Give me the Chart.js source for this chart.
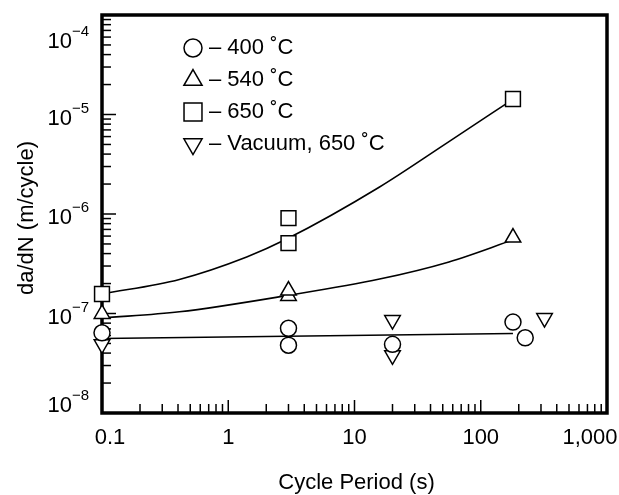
<!DOCTYPE html>
<html>
<head>
    <title>Crack Growth Rate vs Cycle Period</title>
    <script src="https://cdn.jsdelivr.net/npm/chart.js"></script>
    <style>
        body {
            margin: 0;
            background: #fff;
        }
        #wrap {
            width: 619px;
            height: 495px;
        }
    </style>
</head>
<body>
    <div id="wrap">
        <canvas id="crackChart" width="619" height="495"></canvas>
    </div>

    <script>
        // axis ticks
        const xTicks = [0.1, 1, 10, 100, 1000];
        const xTickLabels = ['0.1', '1', '10', '100', '1,000'];
        const yTicks = [1e-8, 1e-7, 1e-6, 1e-5, 1e-4];
        const yTickExps = ['\u22128', '\u22127', '\u22126', '\u22125', '\u22124'];

        const seriesLabels = ['\u2013 400 \u02daC', '\u2013 540 \u02daC', '\u2013 650 \u02daC', '\u2013 Vacuum, 650 \u02daC'];

        // measured points (cycle period s, da/dN m/cycle)
        const period400 = [0.1, 3, 3, 20, 180, 225];
        const rate400 = [6.4e-8, 7.1e-8, 4.8e-8, 4.9e-8, 8.2e-8, 5.7e-8];
        const period540 = [0.1, 3, 3, 180];
        const rate540 = [9.9e-8, 1.5e-7, 1.7e-7, 5.8e-7];
        const period650 = [0.1, 3, 3, 180];
        const rate650 = [1.57e-7, 9.1e-7, 5.1e-7, 1.43e-5];
        const periodVac = [0.1, 20, 20, 320];
        const rateVac = [4.9e-8, 8.6e-8, 3.8e-8, 9.0e-8];

        // fitted curves
        const fitPeriod400 = [0.1, 180];
        const fit400 = [5.6e-8, 6.3e-8];
        const fitPeriod540 = [0.1, 0.41, 3.06, 15.8, 56, 181];
        const fit540 = [9.0e-8, 1.04e-7, 1.53e-7, 2.22e-7, 3.3e-7, 5.5e-7];
        const fitPeriod650 = [0.1, 0.41, 1.4, 2.9, 15.8, 53, 181];
        const fit650 = [1.57e-7, 2.2e-7, 3.7e-7, 5.6e-7, 1.87e-6, 5.1e-6, 1.43e-5];

        const FONT = '"Liberation Sans", Arial, Helvetica, sans-serif';

        const pts = (xs, ys) => xs.map((x, i) => ({ x: x, y: ys[i] }));

        const markerSets = [
            { data: pts(period400, rate400), pointStyle: 'circle', pointRadius: 8, rot: 0 },
            { data: pts(period540, rate540), pointStyle: 'triangle', pointRadius: 9, rot: 0 },
            { data: pts(period650, rate650), pointStyle: 'rect', pointRadius: 10.5, rot: 0 },
            { data: pts(periodVac, rateVac), pointStyle: 'triangle', pointRadius: 9, rot: 180 }
        ];

        const fitLines = [
            pts(fitPeriod400, fit400),
            pts(fitPeriod540, fit540),
            pts(fitPeriod650, fit650)
        ];

        const datasets = [];
        fitLines.forEach(d => {
            datasets.push({
                data: d,
                showLine: true,
                borderColor: '#000',
                borderWidth: 1.6,
                pointRadius: 0,
                cubicInterpolationMode: 'monotone',
                clip: false,
                order: 2
            });
        });
        markerSets.forEach((m, i) => {
            datasets.push({
                label: seriesLabels[i],
                data: m.data,
                showLine: false,
                pointStyle: m.pointStyle,
                pointRadius: m.pointRadius,
                rotation: m.rot,
                backgroundColor: '#fff',
                borderColor: '#000',
                borderWidth: 1.5,
                clip: false,
                order: 1
            });
        });

        const frame = {
            id: 'frame',
            beforeDatasetsDraw(chart) {
                const ctx = chart.ctx;
                const a = chart.chartArea;
                const xs = chart.scales.x;
                const ys = chart.scales.y;
                ctx.save();
                ctx.strokeStyle = '#000';

                // minor / major ticks pointing inward
                ctx.lineWidth = 1.5;
                for (let d = -1; d < 3; d++) {
                    for (let m = 1; m <= 9; m++) {
                        const v = m * Math.pow(10, d);
                        const px = xs.getPixelForValue(v);
                        const len = m === 1 ? 13 : 9;
                        ctx.beginPath();
                        ctx.moveTo(px, a.bottom);
                        ctx.lineTo(px, a.bottom - len);
                        ctx.stroke();
                    }
                }
                for (let d = -8; d < -4; d++) {
                    for (let m = 1; m <= 9; m++) {
                        const v = m * Math.pow(10, d);
                        const py = ys.getPixelForValue(v);
                        const len = m === 1 ? 14 : 9;
                        ctx.beginPath();
                        ctx.moveTo(a.left, py);
                        ctx.lineTo(a.left + len, py);
                        ctx.stroke();
                    }
                }

                // box
                ctx.lineWidth = 3.5;
                ctx.strokeRect(a.left, a.top, a.right - a.left, a.bottom - a.top);

                // tick labels
                ctx.fillStyle = '#000';
                ctx.font = '22px ' + FONT;
                ctx.textAlign = 'center';
                ctx.textBaseline = 'middle';
                xTicks.forEach((v, i) => {
                    const px = Math.min(Math.max(xs.getPixelForValue(v), 110), 590);
                    ctx.fillText(xTickLabels[i], px, 438);
                });
                yTicks.forEach((v, i) => {
                    const py = Math.min(Math.max(ys.getPixelForValue(v) + 4, 42), 406);
                    ctx.font = '22px ' + FONT;
                    ctx.textAlign = 'right';
                    ctx.fillText('10', 72, py);
                    ctx.font = '15px ' + FONT;
                    ctx.textAlign = 'left';
                    ctx.fillText(yTickExps[i], 72, py - 10);
                });

                // axis titles
                ctx.font = '22px ' + FONT;
                ctx.textAlign = 'center';
                ctx.fillText('Cycle Period (s)', (a.left + a.right) / 2 + 2, 483);
                ctx.save();
                ctx.translate(27, (a.top + a.bottom) / 2 + 4);
                ctx.rotate(-Math.PI / 2);
                ctx.fillText('da/dN (m/cycle)', 0, 0);
                ctx.restore();

                // legend
                const rowY = [48, 80, 112, 144];
                const legR = [9, 10.5, 12.7, 10.5];
                markerSets.forEach((m, i) => {
                    ctx.fillStyle = '#fff';
                    ctx.strokeStyle = '#000';
                    ctx.lineWidth = 1.5;
                    Chart.helpers.drawPoint(ctx, {
                        pointStyle: m.pointStyle,
                        radius: legR[i],
                        rotation: m.rot,
                        borderWidth: 1.5
                    }, 193, rowY[i]);
                    ctx.fillStyle = '#000';
                    ctx.font = '22px ' + FONT;
                    ctx.textAlign = 'left';
                    ctx.fillText(seriesLabels[i], 209, rowY[i]);
                });
                ctx.restore();
            }
        };

        new Chart(document.getElementById('crackChart').getContext('2d'), {
            type: 'scatter',
            data: { datasets: datasets },
            options: {
                responsive: false,
                animation: false,
                layout: { padding: { top: 15, right: 11, left: 0, bottom: 0 } },
                plugins: {
                    legend: { display: false },
                    tooltip: { enabled: false }
                },
                scales: {
                    x: {
                        type: 'logarithmic',
                        min: 0.1,
                        max: 1000,
                        grid: { display: false },
                        border: { display: false },
                        ticks: { display: false },
                        afterFit: s => { s.height = 82; }
                    },
                    y: {
                        type: 'logarithmic',
                        min: 1e-8,
                        max: 1e-4,
                        grid: { display: false },
                        border: { display: false },
                        ticks: { display: false },
                        afterFit: s => { s.width = 102; }
                    }
                }
            },
            plugins: [frame]
        });
    </script>
</body>
</html>
